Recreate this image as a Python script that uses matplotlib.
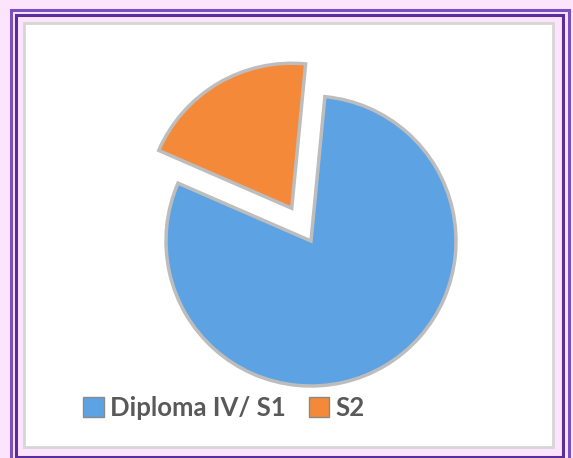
import matplotlib
matplotlib.use("Agg")
import matplotlib.pyplot as plt
from matplotlib.patches import Rectangle, Patch

# data
categorias = ["Diploma IV/ S1", "S2"]
valores = [80, 20]
colores = ["#5da2e2", "#f4893a"]

W, H = 573, 458
fig = plt.figure(figsize=(W / 100, H / 100), dpi=100)
fig.patch.set_facecolor("#fce4fc")
ax = fig.add_axes([0, 0, 1, 1])
ax.axis("off")


def rect(x0, y0, x1, y1, **kw):
    # coordenadas en pixeles con origen arriba a la izquierda
    ax.add_patch(Rectangle((x0, H - y1), x1 - x0, y1 - y0, **kw))


# marco doble morado
rect(10.5, 9.5, 568.5, 470, fill=False, edgecolor="#7b4fc4", linewidth=2.2)
rect(15.5, 14.5, 562.5, 456.5, fill=False, edgecolor="#5a2d9c", linewidth=2.2)
# panel blanco con borde gris
rect(24, 23, 553, 447, facecolor="white", edgecolor="#d6d6d6", linewidth=2)

ax.pie(valores, colors=colores, startangle=84.5, counterclock=False,
       explode=[0, 38], center=(311, H - 241), radius=145,
       wedgeprops=dict(edgecolor="#bdbdbd", linewidth=2.5))
ax.set_xlim(0, W)
ax.set_ylim(0, H)
ax.set_aspect("auto")

handles = [Patch(facecolor=c, edgecolor="#8a8a8a", linewidth=1) for c in colores]
leg = fig.legend(handles, categorias, loc="center", bbox_to_anchor=(224 / W, (H - 408) / H),
                 ncol=2, frameon=False, handlelength=0.8, handleheight=0.8,
                 handletextpad=0.25, columnspacing=0.9,
                 prop=dict(family="Lato", weight="bold", size=18.5))
for t in leg.get_texts():
    t.set_color("#595959")

fig.savefig("out.png", dpi=100, facecolor=fig.get_facecolor())
